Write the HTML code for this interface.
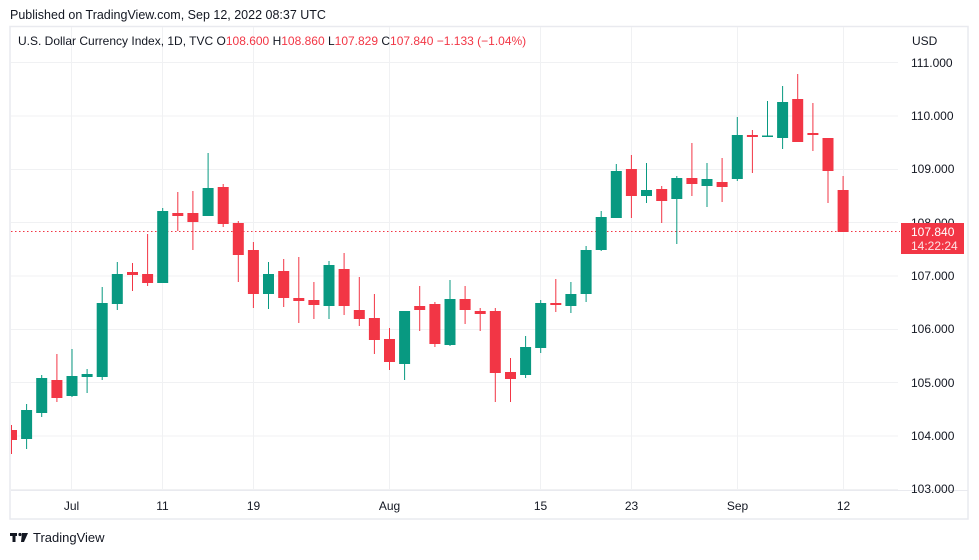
<!DOCTYPE html>
<html><head><meta charset="utf-8"><style>
html,body{margin:0;padding:0;background:#fff;}
body{width:979px;height:555px;overflow:hidden;font-family:"Liberation Sans",sans-serif;}
</style></head><body>
<svg width="979" height="555" xmlns="http://www.w3.org/2000/svg" font-family="Liberation Sans, sans-serif">
<text x="10" y="19" font-size="12.5" fill="#131722">Published on TradingView.com, Sep 12, 2022 08:37 UTC</text>
<rect x="10" y="26.5" width="958" height="492.5" fill="none" stroke="#e9eaef" stroke-width="1.5"/>
<g stroke="#f0f1f3" stroke-width="1">
<line x1="11" y1="62.5" x2="898" y2="62.5"/><line x1="11" y1="116" x2="898" y2="116"/><line x1="11" y1="169.5" x2="898" y2="169.5"/><line x1="11" y1="222.5" x2="898" y2="222.5"/><line x1="11" y1="276" x2="898" y2="276"/><line x1="11" y1="329.5" x2="898" y2="329.5"/><line x1="11" y1="382.5" x2="898" y2="382.5"/><line x1="11" y1="436" x2="898" y2="436"/><line x1="11" y1="489.5" x2="898" y2="489.5"/>
<line x1="71.5" y1="27" x2="71.5" y2="490"/><line x1="162.5" y1="27" x2="162.5" y2="490"/><line x1="253.5" y1="27" x2="253.5" y2="490"/><line x1="389.5" y1="27" x2="389.5" y2="490"/><line x1="540.5" y1="27" x2="540.5" y2="490"/><line x1="631.5" y1="27" x2="631.5" y2="490"/><line x1="737.5" y1="27" x2="737.5" y2="490"/><line x1="843.5" y1="27" x2="843.5" y2="490"/>
</g>
<line x1="11" y1="490.5" x2="968" y2="490.5" stroke="#e9eaef"/>
<text x="18" y="45" font-size="12" fill="#131722">U.S. Dollar Currency Index, 1D, TVC  O<tspan fill="#f23645">108.600</tspan>  H<tspan fill="#f23645">108.860</tspan>  L<tspan fill="#f23645">107.829</tspan>  C<tspan fill="#f23645">107.840</tspan>  <tspan fill="#f23645">−1.133 (−1.04%)</tspan></text>
<line x1="11" y1="231.5" x2="900" y2="231.5" stroke="#f23645" stroke-dasharray="1.5,2.5"/>
<clipPath id="c"><rect x="11" y="27" width="887" height="463"/></clipPath>
<g clip-path="url(#c)">
<g fill="#f23645">
<rect x="11" y="425" width="1" height="29"/><rect x="6" y="430" width="11" height="10"/>
<rect x="56.4" y="354" width="1" height="48"/><rect x="51.4" y="380" width="11" height="18"/>
<rect x="132" y="263" width="1" height="28"/><rect x="127" y="272" width="11" height="3"/>
<rect x="147.1" y="234" width="1" height="52"/><rect x="142.1" y="274" width="11" height="9"/>
<rect x="177.3" y="192" width="1" height="39"/><rect x="172.3" y="213" width="11" height="3"/>
<rect x="192.4" y="191" width="1" height="59"/><rect x="187.4" y="213" width="11" height="9"/>
<rect x="222.7" y="184" width="1" height="43"/><rect x="217.7" y="187" width="11" height="37"/>
<rect x="237.8" y="221" width="1" height="61"/><rect x="232.8" y="223" width="11" height="32"/>
<rect x="252.9" y="242" width="1" height="66"/><rect x="247.9" y="250" width="11" height="44"/>
<rect x="283.2" y="259" width="1" height="48"/><rect x="278.2" y="271" width="11" height="27"/>
<rect x="298.3" y="257" width="1" height="66"/><rect x="293.3" y="298" width="11" height="3"/>
<rect x="313.4" y="282" width="1" height="37"/><rect x="308.4" y="300" width="11" height="5"/>
<rect x="343.6" y="253" width="1" height="62"/><rect x="338.6" y="269" width="11" height="37"/>
<rect x="358.8" y="277" width="1" height="49"/><rect x="353.8" y="310" width="11" height="9"/>
<rect x="373.9" y="294" width="1" height="60"/><rect x="368.9" y="318" width="11" height="22"/>
<rect x="389" y="328" width="1" height="42"/><rect x="384" y="339" width="11" height="23"/>
<rect x="419.2" y="286" width="1" height="45"/><rect x="414.2" y="306" width="11" height="4"/>
<rect x="434.4" y="302" width="1" height="45"/><rect x="429.4" y="304" width="11" height="40"/>
<rect x="464.6" y="286" width="1" height="38"/><rect x="459.6" y="299" width="11" height="11"/>
<rect x="479.7" y="308" width="1" height="23"/><rect x="474.7" y="311" width="11" height="3"/>
<rect x="494.8" y="308" width="1" height="94"/><rect x="489.8" y="311" width="11" height="62"/>
<rect x="510" y="358" width="1" height="44"/><rect x="505" y="372" width="11" height="7"/>
<rect x="555.3" y="279" width="1" height="33"/><rect x="550.3" y="303" width="11" height="2"/>
<rect x="630.9" y="155" width="1" height="63"/><rect x="625.9" y="169" width="11" height="27"/>
<rect x="661.2" y="186" width="1" height="37"/><rect x="656.2" y="189" width="11" height="12"/>
<rect x="691.4" y="143" width="1" height="53"/><rect x="686.4" y="178" width="11" height="6"/>
<rect x="721.6" y="158" width="1" height="44"/><rect x="716.6" y="182" width="11" height="5"/>
<rect x="751.9" y="130" width="1" height="43"/><rect x="746.9" y="135" width="11" height="2"/>
<rect x="797.2" y="74" width="1" height="68"/><rect x="792.2" y="99" width="11" height="43"/>
<rect x="812.4" y="103" width="1" height="48"/><rect x="807.4" y="133" width="11" height="2"/>
<rect x="827.5" y="138" width="1" height="65"/><rect x="822.5" y="138" width="11" height="33"/>
<rect x="842.6" y="176" width="1" height="56"/><rect x="837.6" y="190" width="11" height="42"/>
</g>
<g fill="#089981">
<rect x="26.1" y="404" width="1" height="45"/><rect x="21.1" y="410" width="11" height="29"/>
<rect x="41.2" y="375" width="1" height="42"/><rect x="36.2" y="378" width="11" height="35"/>
<rect x="71.5" y="349" width="1" height="48"/><rect x="66.5" y="376" width="11" height="20"/>
<rect x="86.6" y="369" width="1" height="24"/><rect x="81.6" y="374" width="11" height="3"/>
<rect x="101.7" y="287" width="1" height="93"/><rect x="96.7" y="303" width="11" height="74"/>
<rect x="116.8" y="262" width="1" height="48"/><rect x="111.8" y="274" width="11" height="30"/>
<rect x="162.2" y="208" width="1" height="75"/><rect x="157.2" y="211" width="11" height="72"/>
<rect x="207.6" y="153" width="1" height="63"/><rect x="202.6" y="188" width="11" height="28"/>
<rect x="268" y="262" width="1" height="47"/><rect x="263" y="274" width="11" height="20"/>
<rect x="328.5" y="261" width="1" height="58"/><rect x="323.5" y="265" width="11" height="41"/>
<rect x="404.1" y="311" width="1" height="69"/><rect x="399.1" y="311" width="11" height="53"/>
<rect x="449.5" y="280" width="1" height="66"/><rect x="444.5" y="299" width="11" height="46"/>
<rect x="525.1" y="336" width="1" height="42"/><rect x="520.1" y="347" width="11" height="28"/>
<rect x="540.2" y="300" width="1" height="53"/><rect x="535.2" y="303" width="11" height="45"/>
<rect x="570.4" y="282" width="1" height="31"/><rect x="565.4" y="294" width="11" height="12"/>
<rect x="585.6" y="246" width="1" height="56"/><rect x="580.6" y="250" width="11" height="44"/>
<rect x="600.7" y="211" width="1" height="40"/><rect x="595.7" y="217" width="11" height="33"/>
<rect x="615.8" y="164" width="1" height="54"/><rect x="610.8" y="171" width="11" height="47"/>
<rect x="646" y="163" width="1" height="40"/><rect x="641" y="190" width="11" height="6"/>
<rect x="676.3" y="176" width="1" height="68"/><rect x="671.3" y="178" width="11" height="21"/>
<rect x="706.5" y="163" width="1" height="44"/><rect x="701.5" y="179" width="11" height="7"/>
<rect x="736.8" y="117" width="1" height="64"/><rect x="731.8" y="135" width="11" height="44"/>
<rect x="767" y="101" width="1" height="36"/><rect x="762" y="135.5" width="11" height="1.5"/>
<rect x="782.1" y="86" width="1" height="63"/><rect x="777.1" y="102" width="11" height="36"/>
</g>
</g>
<g font-size="12" fill="#131722">
<text x="912" y="45">USD</text>
<text x="911" y="67">111.000</text><text x="911" y="120">110.000</text><text x="911" y="173">109.000</text><text x="911" y="227">108.000</text><text x="911" y="280">107.000</text><text x="911" y="333">106.000</text><text x="911" y="387">105.000</text><text x="911" y="440">104.000</text><text x="911" y="493">103.000</text>
</g>
<rect x="901" y="223" width="63" height="31" fill="#f23645"/>
<text x="911" y="236" font-size="12" fill="#fff">107.840</text>
<text x="911" y="250" font-size="12" fill="#fde3e5">14:22:24</text>
<g font-size="12" fill="#131722" text-anchor="middle">
<text x="71.5" y="510">Jul</text><text x="162.5" y="510">11</text><text x="253.5" y="510">19</text><text x="389.5" y="510">Aug</text><text x="540.5" y="510">15</text><text x="631.5" y="510">23</text><text x="737.5" y="510">Sep</text><text x="843.5" y="510">12</text>
</g>
<g fill="#131722">
<rect x="10" y="533" width="7" height="3"/><rect x="12.5" y="533" width="3" height="9"/>
<circle cx="20" cy="534.5" r="1.6"/><path d="M22 533h6l-4 9h-3z"/>
</g>
<text x="33" y="542" font-size="13" fill="#131722">TradingView</text>
</svg>
</body></html>
